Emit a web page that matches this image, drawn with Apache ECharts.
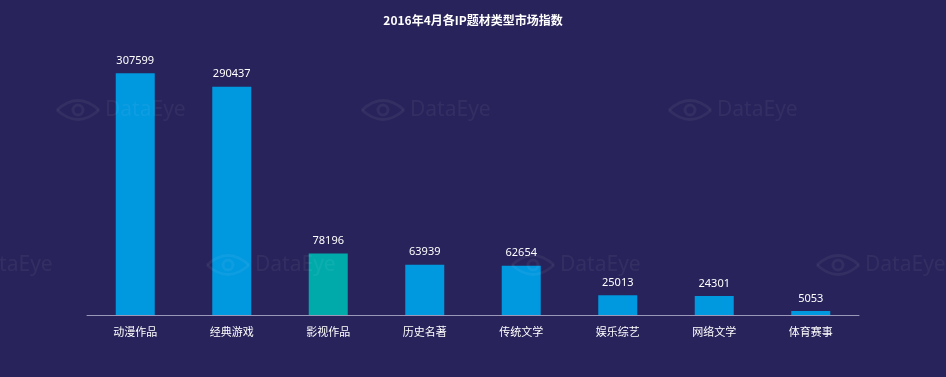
<!DOCTYPE html>
<html>
<head>
<meta charset="utf-8">
<script src="https://cdn.jsdelivr.net/npm/echarts@6/dist/echarts.min.js"></script>
<style>
  html, body { margin: 0; padding: 0; background: #28235a; }
  #main { width: 946px; height: 377px; }
</style>
</head>
<body>
<div id="main"></div>
<script>
const categories = ['动漫作品', '经典游戏', '影视作品', '历史名著', '传统文学', '娱乐综艺', '网络文学', '体育赛事'];
const values = [307599, 290437, 78196, 63939, 62654, 25013, 24301, 5053];
const highlight = '影视作品';

// watermark anchors (eye icon left edge, center y)
const marks = [[57, 110], [362, 110], [669, 110], [-76, 265], [207, 265], [512, 265], [817, 265]];

const wmColor = 'rgba(255,255,255,0.055)';
const graphics = [];
marks.forEach(([x, y]) => {
  [-19, 19].forEach(dy => {
    graphics.push({
      type: 'bezierCurve', z: 100, silent: true,
      shape: { x1: x, y1: y, x2: x + 42, y2: y, cpx1: x + 21, cpy1: y + dy },
      style: { fill: 'none', stroke: wmColor, lineWidth: 3 }
    });
  });
  graphics.push({
    type: 'circle', z: 100, silent: true,
    shape: { cx: x + 21, cy: y, r: 5 },
    style: { fill: 'none', stroke: wmColor, lineWidth: 3 }
  });
  graphics.push({
    type: 'text', z: 100, silent: true,
    x: x + 48, y: y,
    style: { text: 'DataEye', fill: wmColor, font: '21px "Noto Sans", sans-serif', verticalAlign: 'middle' }
  });
});

const chart = echarts.init(document.getElementById('main'));
chart.setOption({
  backgroundColor: '#28235a',
  title: {
    text: '2016年4月各IP题材类型市场指数',
    left: 'center', top: 9,
    textStyle: { color: '#fff', fontSize: 12, fontWeight: 'bold', fontFamily: '"Noto Sans CJK SC", sans-serif' }
  },
  grid: { left: 87, right: 87, top: 40, bottom: 62 },
  xAxis: {
    type: 'category',
    data: categories,
    axisLine: { lineStyle: { color: '#9a97b8', width: 1 } },
    axisTick: { show: false },
    axisLabel: { color: '#fff', fontSize: 11, margin: 11, fontFamily: '"Noto Sans CJK SC", sans-serif' }
  },
  yAxis: {
    type: 'value', min: 0, max: 350000,
    show: false,
    splitLine: { show: false }
  },
  series: [{
    type: 'bar',
    barWidth: 39,
    data: categories.map((c, i) => ({
      value: values[i],
      itemStyle: { color: c === highlight ? '#00aaab' : '#0098df' }
    })),
    label: {
      show: true, position: 'top', distance: 7,
      color: '#fff', fontSize: 11, fontFamily: '"Noto Sans", sans-serif'
    }
  }],
  graphic: graphics
});
</script>
</body>
</html>
